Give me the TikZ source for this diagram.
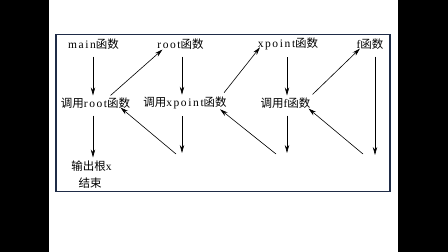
\documentclass[tikz,border=0pt]{standalone}
\usepackage{fontspec}
\setmainfont[LetterSpace=14]{Liberation Serif}
\newfontfamily\cjk{Noto Sans CJK SC}
\usetikzlibrary{arrows.meta}

\definecolor{frameColour}{HTML}{1F2C47}

\tikzset{
    fn/.style={inner sep=2pt, font=\fontsize{11.5}{13}\selectfont},
    call/.style={-{Stealth[length=8pt,width=4.4pt]}, line width=0.6pt}
}

\begin{document}
\begin{tikzpicture}[x=1pt, y=-1pt]
    % Page and side bars
    \useasboundingbox (0,0) rectangle (448,252);
    \fill[black] (0,0) rectangle (49,252);
    \fill[black] (398,0) rectangle (448,252);
    \fill[white] (49,0) rectangle (398,252);

    % Frame
    \draw[frameColour, line width=1.8pt] (56,34.5) rectangle (390,191.5);

    % Functions
    \node[fn] (main)   at (93.5,44) {main{\cjk 函数}};
    \node[fn] (root)   at (180.5,44) {root{\cjk 函数}};
    \node[fn] (xpoint) at (288,44) {xpoint{\cjk 函数}};
    \node[fn] (f)      at (370,44) {f{\cjk 函数}};

    % Calls
    \node[fn] (callroot)   at (95.5,103) {{\cjk 调用}root{\cjk 函数}};
    \node[fn] (callxpoint) at (185,103) {{\cjk 调用}xpoint{\cjk 函数}};
    \node[fn] (callf)      at (285.5,103) {{\cjk 调用}f{\cjk 函数}};

    % Output
    \node[fn] (output) at (91.5,166) {{\cjk 输出根}x};
    \node[fn] (ending) at (90,183) {\cjk 结束};

    % Return points
    \coordinate (backroot)   at (176,154);
    \coordinate (backxpoint) at (276,154);
    \coordinate (backf)      at (363,154);
    \coordinate (endroot)    at (182,153);
    \coordinate (endxpoint)  at (287,153);
    \coordinate (endf)       at (375,155);

    % Downward calls
    \draw[call, shorten <=5pt] ([xshift=-0.5pt]main.south) -- ([xshift=-0.5pt]main.south |- callroot.north);
    \draw[call, shorten <=5pt, shorten >=1pt] ([xshift=-2.5pt]callroot.south) -- ([xshift=-2.5pt]callroot.south |- output.north);
    \draw[call, shorten <=5pt] ([xshift=1.5pt]root.south) -- ([xshift=1.5pt]root.south |- callxpoint.north);
    \draw[call, shorten <=5pt] ([xshift=-1pt]xpoint.south) -- ([xshift=-1pt]xpoint.south |- callf.north);
    \draw[call, shorten <=5pt] ([xshift=5pt]f.south) -- (endf);
    \draw[call, shorten <=5pt] (callxpoint.south -| endroot) -- (endroot);
    \draw[call, shorten <=5pt] (callf.south -| endxpoint) -- (endxpoint);

    % Calls up
    \draw[call] ([xshift=15pt]callroot.north) -- ([xshift=-18pt,yshift=2pt]root.south);
    \draw[call] ([xshift=39pt,yshift=2pt]callxpoint.north) -- ([xshift=-28pt,yshift=5pt]xpoint.south);
    \draw[call] ([xshift=27pt,yshift=1pt]callf.north) -- ([xshift=-10pt,yshift=3pt]f.south);

    % Returns
    \draw[call] (backroot) -- ([xshift=25pt,yshift=3pt]callroot.south);
    \draw[call] (backxpoint) -- ([xshift=35pt,yshift=2pt]callxpoint.south);
    \draw[call] (backf) -- ([xshift=23pt,yshift=2pt]callf.south);
\end{tikzpicture}
\end{document}
